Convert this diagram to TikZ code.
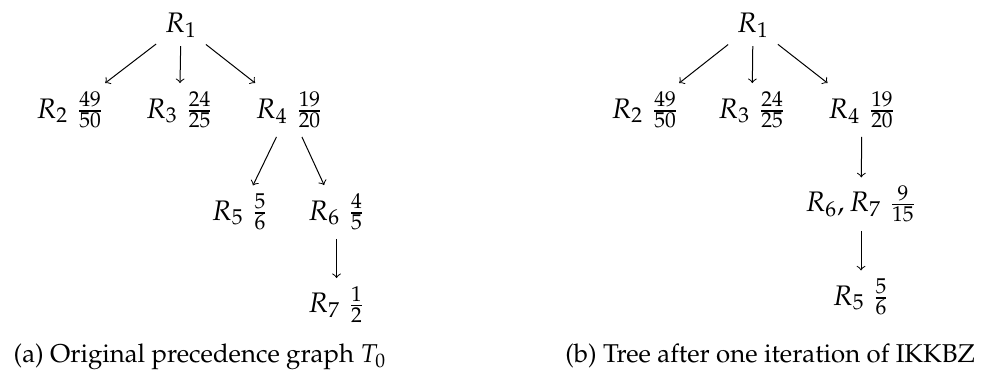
\documentclass[tikz,border=0pt]{standalone}
\usepackage[T1]{fontenc}
\usepackage{mathpazo}
\usetikzlibrary{calc}
\tikzset{
  rel/.style={
    anchor=base,
    inner sep=3.33pt,
    font=\fontsize{11.3}{13.6}\selectfont
  },
  sub/.style={
    anchor=base,
    font=\fontsize{10.3}{12.4}\selectfont
  },
  edge/.style={
    ->,
    line width=0.4pt
  }
}

\begin{document}
\begin{tikzpicture}[x=1cm,y=1cm]
  \useasboundingbox (0,0) rectangle (13.805,5.230);
  \coordinate (A) at (2.545,4.780);
  \coordinate (B) at (10.586,4.780);

  % (a) Original tree with the rank of every relation.
  \node[rel] (a-r1) at (A) {$R_1$};
  \node[rel] (a-r2) at ($(A)+(-1.560,-1.209)$) {$R_2\;\frac{49}{50}$};
  \node[rel] (a-r3) at ($(A)+(-0.021,-1.209)$) {$R_3\;\frac{24}{25}$};
  \node[rel] (a-r4) at ($(A)+(1.525,-1.209)$) {$R_4\;\frac{19}{20}$};
  \node[rel] (a-r5) at ($(A)+(0.829,-2.643)$) {$R_5\;\frac{5}{6}$};
  \node[rel] (a-r6) at ($(A)+(2.186,-2.643)$) {$R_6\;\frac{4}{5}$};
  \node[rel] (a-r7) at ($(A)+(2.186,-3.950)$) {$R_7\;\frac{1}{2}$};

  \draw[edge] (a-r1) -- (a-r2);
  \draw[edge] (a-r1) -- (a-r3);
  \draw[edge] (a-r1) -- (a-r4);
  \draw[edge] (a-r4) -- (a-r5);
  \draw[edge] (a-r4) -- (a-r6);
  \draw[edge] (a-r6) -- (a-r7);

  % (b) Same tree once R6 and R7 are merged.
  \node[rel] (b-r1) at (B) {$R_1$};
  \node[rel] (b-r2) at ($(B)+(-1.518,-1.209)$) {$R_2\;\frac{49}{50}$};
  \node[rel] (b-r3) at ($(B)+(-0.014,-1.209)$) {$R_3\;\frac{24}{25}$};
  \node[rel] (b-r4) at ($(B)+(1.532,-1.209)$) {$R_4\;\frac{19}{20}$};
  \node[rel] (b-r67) at ($(B)+(1.518,-2.530)$) {$R_6,R_7\;\frac{9}{15}$};
  \node[rel] (b-r5) at ($(B)+(1.518,-3.838)$) {$R_5\;\frac{5}{6}$};

  \draw[edge] (b-r1) -- (b-r2);
  \draw[edge] (b-r1) -- (b-r3);
  \draw[edge] (b-r1) -- (b-r4);
  \draw[edge] (b-r4) -- (b-r67);
  \draw[edge] (b-r67) -- (b-r5);

  % Sub-captions below both trees.
  \node[sub] (cap-a) at ($(A)+(0.267,-4.653)$)
    {(a) Original precedence graph $T_0$};
  \node[sub] (cap-b) at ($(B)+(0.239,-4.653)$)
    {(b) Tree after one iteration of IKKBZ};
\end{tikzpicture}
\end{document}
